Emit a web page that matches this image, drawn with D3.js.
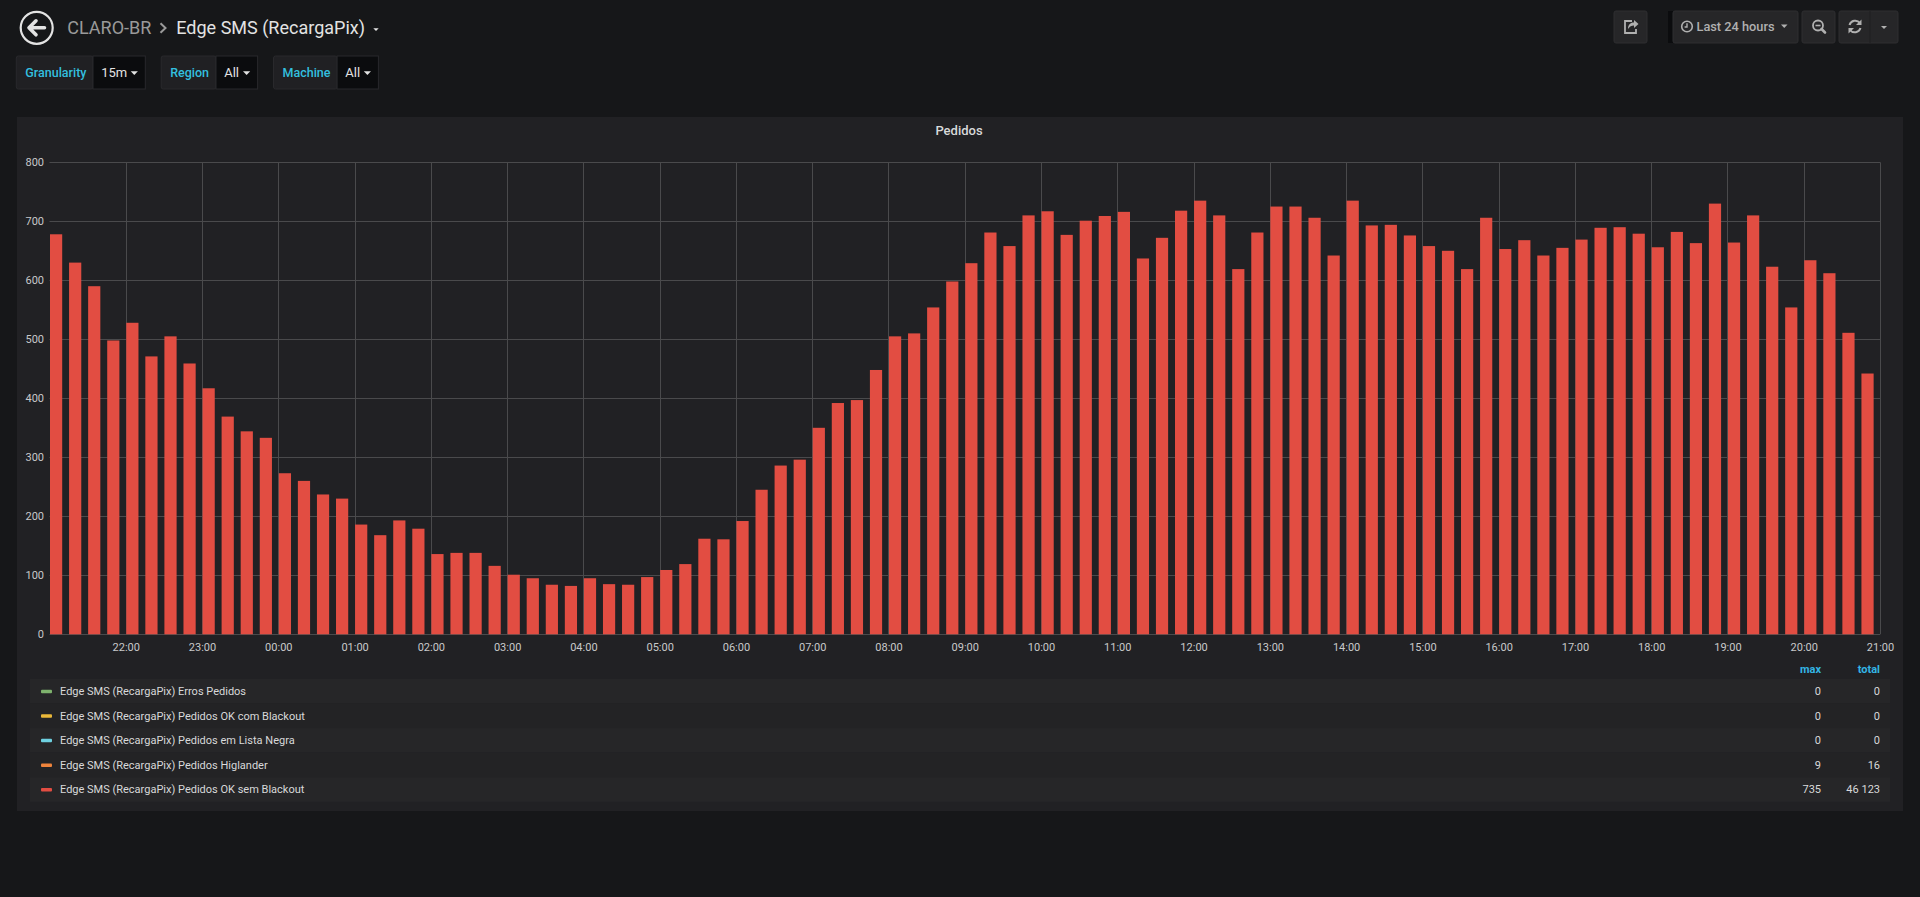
<!DOCTYPE html>
<html>
<head>
<meta charset="utf-8">
<title>Edge SMS (RecargaPix)</title>
<script src="https://cdn.jsdelivr.net/npm/d3@7"></script>
<style>
    html, body { margin: 0; padding: 0; background: #161719; overflow: hidden; }
    svg { display: block; font-family: Roboto, "Open Sans", sans-serif; }
</style>
</head>
<body>
<div id="dashboard"></div>
<script>
// window start (21:00) and granularity of the series
var startTime = Date.UTC(2021, 2, 9, 21, 0);
var stepMinutes = 15;

// Pedidos OK sem Blackout, one value per 15m bucket starting 21:00
var pedidosOkSemBlackout = [
    678, 630, 590, 498, 528, 471, 505, 459, 417, 369, 344, 333,
    273, 260, 237, 230, 186, 168, 193, 179, 136, 138, 138, 116,
    101, 95, 84, 82, 95, 85, 84, 97, 109, 119, 162, 161,
    192, 245, 286, 296, 350, 392, 397, 448, 505, 510, 554, 598,
    629, 681, 658, 710, 717, 677, 701, 709, 716, 637, 672, 718,
    735, 710, 619, 681, 725, 725, 706, 642, 735, 693, 694, 676,
    658, 650, 619, 706, 653, 668, 642, 655, 669, 689, 690, 679,
    656, 682, 663, 730, 664, 710, 623, 554, 634, 612, 511, 442
];

// legend
var seriesNames = [
    "Edge SMS (RecargaPix) Erros Pedidos",
    "Edge SMS (RecargaPix) Pedidos OK com Blackout",
    "Edge SMS (RecargaPix) Pedidos em Lista Negra",
    "Edge SMS (RecargaPix) Pedidos Higlander",
    "Edge SMS (RecargaPix) Pedidos OK sem Blackout"
];
var seriesColors = ["#7eb26d", "#eab839", "#6ed0e0", "#ef843c", "#e24d42"];
var seriesMax = [0, 0, 0, 9, 735];
var seriesTotal = [0, 0, 0, 16, 46123];

// axes
var yTicks = [0, 100, 200, 300, 400, 500, 600, 700, 800];
var xTickLabels = ["22:00", "23:00", "00:00", "01:00", "02:00", "03:00", "04:00", "05:00",
    "06:00", "07:00", "08:00", "09:00", "10:00", "11:00", "12:00", "13:00", "14:00",
    "15:00", "16:00", "17:00", "18:00", "19:00", "20:00", "21:00"];

// template variables
var variableLabels = ["Granularity", "Region", "Machine"];
var variableValues = ["15m", "All", "All"];


DashboardVis = function (_parentElement) {
    this.parentElement = _parentElement;
    this.initVis();
}

DashboardVis.prototype.initVis = function () {
    var vis = this;

    vis.width = 1920;
    vis.height = 897;

    vis.svg = d3.select("#" + vis.parentElement).append("svg")
        .attr("width", vis.width)
        .attr("height", vis.height);

    vis.svg.append("rect")
        .attr("width", vis.width)
        .attr("height", vis.height)
        .attr("fill", "#161719");

    vis.drawNavbar();
    vis.drawVariables();
    vis.drawPanel();
}

DashboardVis.prototype.drawNavbar = function () {
    var vis = this;
    var nav = vis.svg.append("g");

    // back button
    nav.append("circle")
        .attr("cx", 36.7).attr("cy", 27.8).attr("r", 16)
        .attr("fill", "none").attr("stroke", "#e3e3e3").attr("stroke-width", 2.2);
    nav.append("path")
        .attr("d", "M29,27.8 L36,20.8 M29,27.8 L36,34.8 M29.5,27.8 L44.5,27.8")
        .attr("fill", "none").attr("stroke", "#e3e3e3")
        .attr("stroke-width", 3.6).attr("stroke-linecap", "round").attr("stroke-linejoin", "round");

    nav.append("text")
        .attr("x", 67.3).attr("y", 33.5)
        .attr("font-size", 18)
        .attr("fill", "#9a9a9a")
        .text("CLARO-BR");

    nav.append("path")
        .attr("d", "M160.5,23.3 L165.5,28 L160.5,32.7")
        .attr("fill", "none").attr("stroke", "#9a9a9a").attr("stroke-width", 2);

    nav.append("text")
        .attr("x", 176.3).attr("y", 33.5)
        .attr("font-size", 18)
        .attr("fill", "#e3e3e3")
        .text("Edge SMS (RecargaPix)");

    nav.append("path")
        .attr("d", "M373.3,28.3 L378.7,28.3 L376,31.1 Z")
        .attr("fill", "#e3e3e3");

    // right side buttons
    var btnFill = "#262628", btnStroke = "#2e2e31", iconColor = "#b0b0b0";
    function button(x, w) {
        nav.append("rect")
            .attr("x", x).attr("y", 11).attr("width", w).attr("height", 32)
            .attr("rx", 2).attr("fill", btnFill).attr("stroke", btnStroke);
    }
    button(1614, 33);
    nav.append("rect").attr("x", 1668).attr("y", 11).attr("width", 5).attr("height", 32).attr("fill", "#0b0c0e");
    button(1673, 125);
    button(1802, 33);
    button(1839, 59);
    nav.append("line").attr("x1", 1870).attr("x2", 1870).attr("y1", 11).attr("y2", 43)
        .attr("stroke", "#1e1e20");

    // share icon
    nav.append("path")
        .attr("d", "M1632,21 L1625,21 L1625,33 L1636,33 L1636,29")
        .attr("fill", "none").attr("stroke", iconColor).attr("stroke-width", 1.8);
    nav.append("path")
        .attr("d", "M1628,29 C1628,24 1631,22.5 1634,22.5 L1634,20 L1638.5,24 L1634,28 L1634,25.5 C1631.5,25.5 1629.5,26.5 1628,29 Z")
        .attr("fill", iconColor);

    // clock icon + time range
    nav.append("circle").attr("cx", 1687).attr("cy", 26.5).attr("r", 5.3)
        .attr("fill", "none").attr("stroke", iconColor).attr("stroke-width", 1.6);
    nav.append("path").attr("d", "M1687,23.2 L1687,27 L1684.6,27")
        .attr("fill", "none").attr("stroke", iconColor).attr("stroke-width", 1.4);
    nav.append("text")
        .attr("x", 1696.5).attr("y", 31)
        .attr("font-size", 13.5).attr("font-weight", 500)
        .attr("fill", iconColor)
        .attr("textLength", 78).attr("lengthAdjust", "spacingAndGlyphs")
        .text("Last 24 hours");
    nav.append("path").attr("d", "M1781,24.5 L1787.5,24.5 L1784.25,28 Z").attr("fill", iconColor);

    // zoom out icon
    nav.append("circle").attr("cx", 1818).attr("cy", 25.5).attr("r", 5)
        .attr("fill", "none").attr("stroke", iconColor).attr("stroke-width", 1.8);
    nav.append("path").attr("d", "M1821.5,29 L1825,32.5")
        .attr("stroke", iconColor).attr("stroke-width", 2.6).attr("stroke-linecap", "round");
    nav.append("path").attr("d", "M1815.5,25.5 L1820.5,25.5")
        .attr("stroke", iconColor).attr("stroke-width", 1.6);

    // refresh icon
    nav.append("path")
        .attr("d", "M1849.5,25 A6,6 0 0 1 1860,23 M1860.5,28 A6,6 0 0 1 1850,30")
        .attr("fill", "none").attr("stroke", iconColor).attr("stroke-width", 2);
    nav.append("path").attr("d", "M1861.5,19.5 L1861.5,25 L1856,25 Z").attr("fill", iconColor);
    nav.append("path").attr("d", "M1848.5,33.5 L1848.5,28 L1854,28 Z").attr("fill", iconColor);

    nav.append("path").attr("d", "M1881,26 L1887,26 L1884,29 Z").attr("fill", iconColor);
}

DashboardVis.prototype.drawVariables = function () {
    var vis = this;

    // x positions measured for each variable box: [start, value start, end]
    var boxes = [[16.3, 93, 145.3], [161.2, 216, 257.6], [273.5, 337.1, 378.4]];

    var g = vis.svg.append("g");
    variableLabels.forEach(function (label, i) {
        var b = boxes[i];
        g.append("rect")
            .attr("x", b[0]).attr("y", 56).attr("width", b[1] - b[0]).attr("height", 33)
            .attr("rx", 2)
            .attr("fill", "#202023").attr("stroke", "#29292c");
        g.append("rect")
            .attr("x", b[1]).attr("y", 56).attr("width", b[2] - b[1]).attr("height", 33)
            .attr("fill", "#0b0c0e").attr("stroke", "#29292c");
        g.append("text")
            .attr("x", b[0] + 9).attr("y", 77)
            .attr("font-size", 12.5).attr("font-weight", 500)
            .attr("fill", "#33bfdf")
            .text(label);
        g.append("text")
            .attr("x", b[1] + 8.2).attr("y", 77)
            .attr("font-size", 13)
            .attr("fill", "#e3e3e3")
            .text(variableValues[i]);
        var cx = b[2] - 11;
        g.append("path")
            .attr("d", "M" + (cx - 3.6) + ",71.3 L" + (cx + 3.6) + ",71.3 L" + cx + ",75 Z")
            .attr("fill", "#e3e3e3");
    });
}

DashboardVis.prototype.drawPanel = function () {
    var vis = this;

    var panel = vis.svg.append("g");
    panel.append("rect")
        .attr("x", 17).attr("y", 117).attr("width", 1886).attr("height", 694)
        .attr("fill", "#212124");

    panel.append("text")
        .attr("x", 959).attr("y", 135)
        .attr("text-anchor", "middle")
        .attr("font-size", 13).attr("font-weight", 500)
        .attr("fill", "#d8d9da")
        .text("Pedidos");

    // bucket data
    var data = pedidosOkSemBlackout.map(function (v, i) {
        return { time: new Date(startTime + i * stepMinutes * 60000), value: v };
    });
    var endTime = new Date(startTime + 24 * 3600000);

    // scales and axes
    vis.x = d3.scaleUtc().domain([new Date(startTime), endTime]).range([49.5, 1880]);
    vis.y = d3.scaleLinear().domain([0, 800]).range([634.3, 162.3]);

    var hourTicks = xTickLabels.map(function (d, i) {
        return new Date(startTime + (i + 1) * 3600000);
    });

    var plot = panel.append("g");

    // grid
    plot.selectAll(".hgrid").data(yTicks).enter().append("line")
        .attr("class", "hgrid")
        .attr("x1", vis.x.range()[0]).attr("x2", vis.x.range()[1])
        .attr("y1", function (d) { return Math.round(vis.y(d)) + 0.5; })
        .attr("y2", function (d) { return Math.round(vis.y(d)) + 0.5; })
        .attr("stroke", "#4a4a4c").attr("stroke-width", 1);

    plot.selectAll(".vgrid").data(hourTicks).enter().append("line")
        .attr("class", "vgrid")
        .attr("x1", function (d) { return Math.round(vis.x(d)) + 0.5; })
        .attr("x2", function (d) { return Math.round(vis.x(d)) + 0.5; })
        .attr("y1", vis.y(800)).attr("y2", vis.y(0))
        .attr("stroke", "#4a4a4c").attr("stroke-width", 1);

    // bars
    var step = vis.x(data[1].time) - vis.x(data[0].time);
    var barWidth = step * 0.64;
    plot.selectAll(".bar").data(data).enter().append("rect")
        .attr("class", "bar")
        .attr("x", function (d) { return vis.x(d.time) + 0.5; })
        .attr("y", function (d) { return vis.y(d.value); })
        .attr("width", barWidth)
        .attr("height", function (d) { return vis.y(0) - vis.y(d.value); })
        .attr("fill", seriesColors[4]);

    // axes labels
    var xAxis = d3.axisBottom(vis.x)
        .tickValues(hourTicks)
        .tickFormat(function (d, i) { return xTickLabels[i]; })
        .tickSize(0).tickPadding(10);
    var yAxis = d3.axisLeft(vis.y)
        .tickValues(yTicks)
        .tickFormat(d3.format("d"))
        .tickSize(0).tickPadding(5.5);

    var gx = plot.append("g").attr("class", "x-axis axis")
        .attr("transform", "translate(0," + vis.y(0) + ")")
        .call(xAxis);
    var gy = plot.append("g").attr("class", "y-axis axis")
        .attr("transform", "translate(" + vis.x.range()[0] + ",0)")
        .call(yAxis);

    [gx, gy].forEach(function (g) {
        g.select(".domain").remove();
        g.selectAll("text")
            .attr("font-family", "Roboto, sans-serif")
            .attr("font-size", 11)
            .attr("fill", "#c8c9ca");
    });
    gx.selectAll("text").attr("dy", "0.71em").attr("y", 8.5);

    vis.drawLegend(panel);
}

DashboardVis.prototype.drawLegend = function (panel) {
    var vis = this;
    var fmt = d3.formatLocale({ decimal: ".", thousands: " ", grouping: [3], currency: ["", ""] }).format(",d");

    var legend = panel.append("g");
    var rowTop = 679, rowH = 24.55;
    var maxX = 1821, totalX = 1880;

    legend.append("text").attr("x", maxX).attr("y", 673)
        .attr("text-anchor", "end").attr("font-size", 11).attr("font-weight", 700)
        .attr("fill", "#33b5e5").text("max");
    legend.append("text").attr("x", totalX).attr("y", 673)
        .attr("text-anchor", "end").attr("font-size", 11).attr("font-weight", 700)
        .attr("fill", "#33b5e5").text("total");

    var rows = legend.selectAll(".legend-row").data(seriesNames).enter().append("g")
        .attr("class", "legend-row")
        .attr("transform", function (d, i) { return "translate(0," + (rowTop + i * rowH) + ")"; });

    rows.append("rect")
        .attr("x", 30).attr("y", 0).attr("width", 1860).attr("height", rowH)
        .attr("fill", function (d, i) { return i % 2 === 0 ? "#262628" : "#232325"; });

    rows.append("rect")
        .attr("x", 41).attr("y", rowH / 2 - 1.5).attr("width", 11).attr("height", 3.5)
        .attr("rx", 1)
        .attr("fill", function (d, i) { return seriesColors[i]; });

    rows.append("text")
        .attr("x", 60).attr("y", rowH / 2 + 3.8)
        .attr("font-size", 11).attr("fill", "#d8d9da")
        .text(function (d) { return d; });

    rows.append("text")
        .attr("x", maxX).attr("y", rowH / 2 + 3.8)
        .attr("text-anchor", "end").attr("font-size", 11).attr("fill", "#d8d9da")
        .text(function (d, i) { return fmt(seriesMax[i]); });

    rows.append("text")
        .attr("x", totalX).attr("y", rowH / 2 + 3.8)
        .attr("text-anchor", "end").attr("font-size", 11).attr("fill", "#d8d9da")
        .text(function (d, i) { return fmt(seriesTotal[i]); });
}

var dashboard = new DashboardVis("dashboard");
</script>
</body>
</html>
